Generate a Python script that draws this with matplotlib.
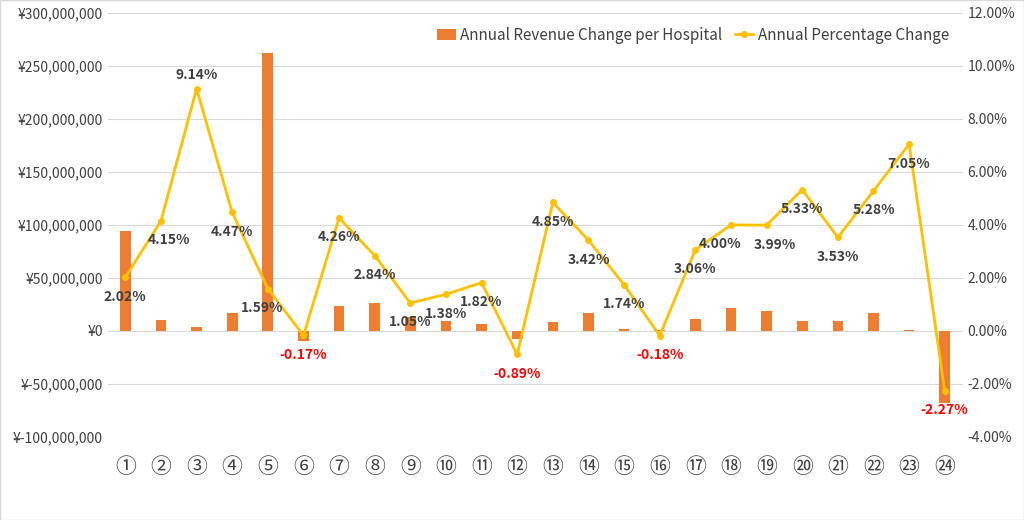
import numpy as np
import matplotlib.pyplot as plt
from matplotlib.ticker import FuncFormatter

plt.rcParams['font.family'] = ['Noto Sans CJK JP', 'DejaVu Sans']
plt.rcParams['axes.unicode_minus'] = False

labels = ['①', '②', '③', '④', '⑤', '⑥', '⑦', '⑧', '⑨', '⑩', '⑪', '⑫',
          '⑬', '⑭', '⑮', '⑯', '⑰', '⑱', '⑲', '⑳', '㉑', '㉒', '㉓', '㉔']
revenue = [94e6, 10e6, 4e6, 17e6, 262e6, -10e6, 23e6, 26e6, 13e6, 9e6, 6e6, -8e6,
           8e6, 17e6, 2e6, 0.5e6, 11e6, 22e6, 19e6, 9e6, 9e6, 17e6, 0.5e6, -68e6]
pct = [2.02, 4.15, 9.14, 4.47, 1.59, -0.17, 4.26, 2.84, 1.05, 1.38, 1.82, -0.89,
       4.85, 3.42, 1.74, -0.18, 3.06, 4.00, 3.99, 5.33, 3.53, 5.28, 7.05, -2.27]
# label offsets in points (style only)
offs = [(0, -14), (6, -14), (0, 10), (0, -14), (-4, -14), (0, -14), (0, -14), (0, -14),
        (0, -14), (0, -14), (0, -14), (0, -14), (0, -14), (0, -14), (0, -14), (0, -14),
        (0, -14), (-8, -14), (6, -14), (0, -14), (0, -14), (0, -14), (0, -14), (0, -14)]

x = np.arange(len(labels))
fig, ax = plt.subplots(figsize=(10.24, 5.2), dpi=100)
fig.subplots_adjust(left=0.105, right=0.94, top=0.975, bottom=0.16)
fig.patches.append(plt.Rectangle((0, 0), 1, 1, transform=fig.transFigure, fill=False,
                                 ec='#D9D9D9', lw=1))
ax.bar(x, revenue, width=0.3, color='#ED7D31', label='Annual Revenue Change per Hospital', zorder=2)
ax.set_ylim(-100e6, 300e6)
ax.set_yticks(np.arange(-100e6, 300e6 + 1, 50e6))
ax.yaxis.set_major_formatter(FuncFormatter(lambda v, p: f'¥{v:,.0f}'))
ax.grid(axis='y', color='#D9D9D9', lw=0.8, zorder=0)
ax.set_xlim(-0.5, len(labels) - 0.5)
ax.set_xticks(x)
ax.set_xticklabels(labels, fontsize=15)
ax.tick_params(axis='x', pad=14)
for s in ax.spines.values():
    s.set_visible(False)
ax.tick_params(length=0, colors='#404040')

ax2 = ax.twinx()
ax2.plot(x, pct, color='#FFC000', lw=2, marker='o', ms=4, label='Annual Percentage Change')
ax2.set_ylim(-4, 12)
ax2.set_yticks(np.arange(-4, 12.1, 2))
ax2.yaxis.set_major_formatter(FuncFormatter(lambda v, p: f'{v:.2f}%'))
for s in ax2.spines.values():
    s.set_visible(False)
ax2.tick_params(length=0, colors='#404040')
for xi, p, o in zip(x, pct, offs):
    ax2.annotate(f'{p:.2f}%', (xi, p), xytext=o, textcoords='offset points', ha='center', va='center',
                 fontsize=10, fontweight='bold', color='red' if p < 0 else '#404040')

h1, l1 = ax.get_legend_handles_labels()
h2, l2 = ax2.get_legend_handles_labels()
ax2.legend(h1 + h2, l1 + l2, loc='upper right', ncol=2, frameon=False, fontsize=11,
           handlelength=1.2, columnspacing=0.8, handletextpad=0.3, labelcolor='#404040')
fig.savefig('out.png')
